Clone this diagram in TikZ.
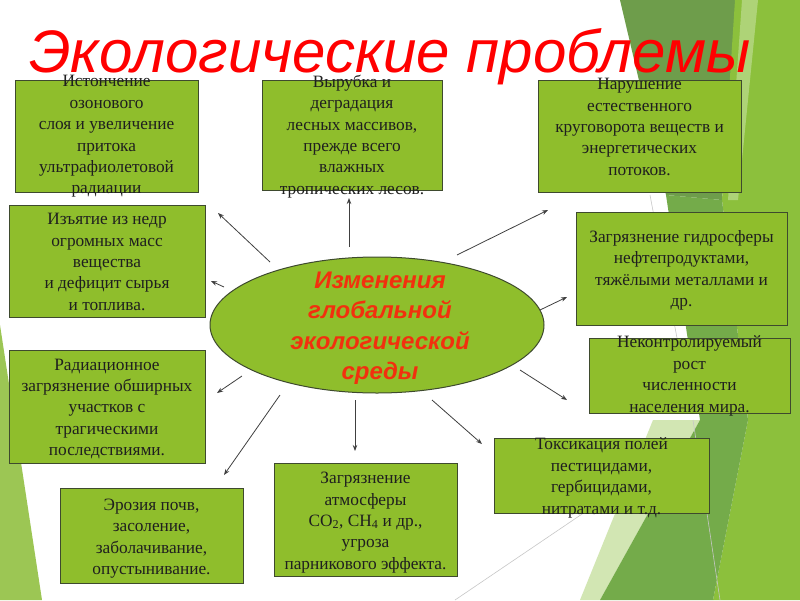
\documentclass[tikz,border=0pt]{standalone}
\usepackage{fontspec}
\setmainfont{Liberation Serif}
\newfontfamily\titlefont{Liberation Sans}
\usetikzlibrary{arrows.meta,shapes.geometric}
\definecolor{boxgreen}{HTML}{8FBE2C}
\definecolor{boxedge}{HTML}{3E4A2E}
\definecolor{olive}{HTML}{6E9D4B}
\definecolor{bright}{HTML}{8CC03C}
\definecolor{midgreen}{HTML}{74AB4A}
\definecolor{pale}{HTML}{D2E6B3}
\definecolor{leftgreen}{HTML}{9CC654}
\definecolor{arrowgrey}{HTML}{404040}
\definecolor{ellred}{HTML}{F2300E}
\begin{document}
\begin{tikzpicture}[x=1pt,y=-1pt,
  gbox/.style={draw=boxedge,line width=1pt,fill=boxgreen,rectangle,inner sep=0pt,outer sep=0pt},
  btext/.style={font=\fontsize{17.3}{21.4}\selectfont,align=center,text=black!88,inner sep=0pt},
  conn/.style={draw=arrowgrey,line width=0.8pt,-{Stealth[length=6pt,width=4.5pt]}},
  deco/.style={draw=black!22,line width=0.6pt}]
\useasboundingbox (0,0) rectangle (800,600);
\fill[white] (0,0) rectangle (800,600);
% background facets
\fill[olive] (620,0) -- (738,0) -- (722,200) -- (666,195) -- cycle;
\fill[bright] (735,0) -- (800,0) -- (800,600) -- (713,600) -- (748,420) -- (722,200) -- cycle;
\fill[bright!70!white] (742,0) -- (758,0) -- (738,200) -- (728,200) -- cycle;
\fill[midgreen] (666,195) -- (722,200) -- (748,420) -- (700,420) -- cycle;
\fill[pale] (653,420) -- (700,420) -- (600,600) -- (580,600) -- cycle;
\fill[midgreen] (700,420) -- (748,420) -- (713,600) -- (600,600) -- cycle;
\fill[leftgreen] (0,325) -- (42,600) -- (0,600) -- cycle;
\draw[deco] (455,600) -- (650,468);
\draw[deco] (650,195) -- (677,338);
\draw[deco] (693,420) -- (720,600);
% title
\node[anchor=base,text=red,font=\titlefont\itshape\fontsize{60}{64}\selectfont,inner sep=0pt] (title) at (390,72) {Экологические проблемы};
% ellipse
\node[ellipse,draw=boxedge,line width=1pt,fill=boxgreen,minimum width=334pt,minimum height=136pt,inner sep=0pt] (ell) at (377,325) {};
\node[font=\titlefont\bfseries\itshape\fontsize{24}{30.5}\selectfont,text=ellred,align=center,inner sep=0pt] (elltext) at (380,328) {Изменения\\глобальной\\экологической\\среды};
% boxes
\node[gbox,minimum width=183pt,minimum height=112pt] (b1) at (106.5,136) {};
\node[gbox,minimum width=180pt,minimum height=110pt] (b2) at (352,135) {};
\node[gbox,minimum width=203pt,minimum height=112pt] (b3) at (639.5,136) {};
\node[gbox,minimum width=196pt,minimum height=112pt] (b4) at (107,261) {};
\node[gbox,minimum width=211pt,minimum height=113pt] (b5) at (681.5,268.5) {};
\node[gbox,minimum width=201pt,minimum height=75pt] (b6) at (689.5,375.5) {};
\node[gbox,minimum width=196pt,minimum height=113pt] (b7) at (107,406.5) {};
\node[gbox,minimum width=183pt,minimum height=95pt] (b8) at (151.5,535.5) {};
\node[gbox,minimum width=183pt,minimum height=113pt] (b9) at (365.5,519.5) {};
\node[gbox,minimum width=215pt,minimum height=75pt] (b10) at (601.5,475.5) {};
% texts
\node[btext] (t1) at (106.5,136.5) {Истончение\\озонового\\слоя и увеличение\\притока\\ультрафиолетовой\\радиации};
\node[btext] (t2) at (352,136.5) {Вырубка и\\деградация\\лесных массивов,\\прежде всего\\влажных\\тропических лесов.};
\node[btext] (t3) at (639.5,127) {Нарушение\\естественного\\круговорота веществ и\\энергетических\\потоков.};
\node[btext] (t4) at (107,262) {Изъятие из недр\\ огромных масс\\вещества\\и дефицит сырья\\и топлива.};
\node[btext] (t5) at (681.5,270.5) {Загрязнение гидросферы\\нефтепродуктами,\\тяжёлыми металлами и\\др.};
\node[btext] (t6) at (689.5,376) {Неконтролируемый\\рост\\численности\\населения мира.};
\node[btext] (t7) at (107,409) {Радиационное\\загрязнение обширных\\участков с\\трагическими\\последствиями.};
\node[btext] (t8) at (151.5,538.5) {Эрозия почв,\\засоление,\\заболачивание,\\опустынивание.};
\node[btext] (t9) at (365.5,522.5) {Загрязнение\\атмосферы\\CO\textsubscript{2}, CH\textsubscript{4} и др.,\\угроза\\ парникового эффекта.};
\node[btext] (t10) at (601.5,478) {Токсикация полей\\пестицидами,\\гербицидами,\\нитратами и т.д.};
% connector ends
\coordinate (s1) at (270,262); \coordinate (e1) at (218,213);
\coordinate (s2) at (224,287); \coordinate (e2) at (211,281);
\coordinate (s3) at (349,247); \coordinate (e3) at (349,198);
\coordinate (s4) at (457,255); \coordinate (e4) at (548,210);
\coordinate (s5) at (540,310); \coordinate (e5) at (567,297);
\coordinate (s6) at (520,370); \coordinate (e6) at (567,400);
\coordinate (s7) at (432,400); \coordinate (e7) at (482,444);
\coordinate (s8) at (355,400); \coordinate (e8) at (355,451);
\coordinate (s9) at (280,395); \coordinate (e9) at (224,475);
\coordinate (s10) at (242,376); \coordinate (e10) at (217,393);
\foreach \i in {1,...,10} {\draw[conn] (s\i) -- (e\i);}
\end{tikzpicture}
\end{document}
